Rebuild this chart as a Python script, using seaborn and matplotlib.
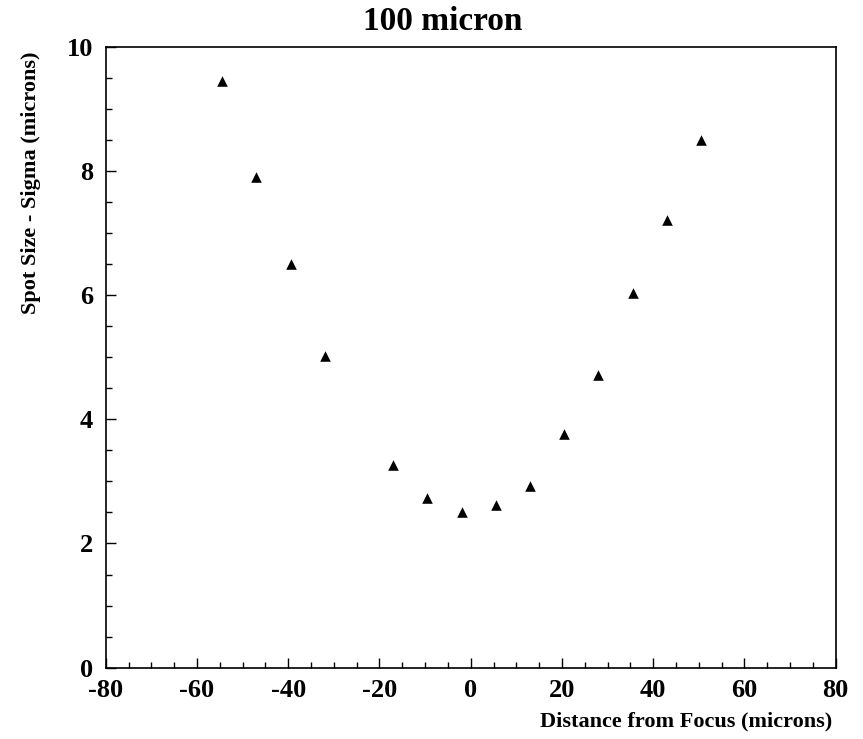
import matplotlib
matplotlib.use("Agg")
import matplotlib.pyplot as plt
import seaborn as sns
import pandas as pd
from matplotlib.ticker import MultipleLocator

distance = [-54.5, -47.0, -39.5, -32.0, -17.0, -9.5, -2.0, 5.5, 13.0, 20.5, 28.0, 35.5, 43.0, 50.5]
sigma = [9.45, 7.90, 6.50, 5.02, 3.26, 2.74, 2.50, 2.62, 2.93, 3.76, 4.72, 6.03, 7.21, 8.50]
x_ticks = [-80, -60, -40, -20, 0, 20, 40, 60, 80]
y_ticks = [0, 2, 4, 6, 8, 10]

sns.set_theme(style="white")
plt.rcParams['font.family'] = ['Liberation Serif', 'DejaVu Serif']
plt.rcParams['text.color'] = 'black'
plt.rcParams['xtick.color'] = 'black'
plt.rcParams['ytick.color'] = 'black'

df = pd.DataFrame({"distance": distance, "sigma": sigma})

fig = plt.figure(figsize=(8.63, 7.39), dpi=100)
ax = fig.add_axes([0.1225, 0.0965, 0.9684 - 0.1225, 0.9368 - 0.0965])

sns.scatterplot(data=df, x="distance", y="sigma", marker="^", color="black",
                s=58, linewidth=0, ax=ax)

ax.set_xlim(-80, 80)
ax.set_ylim(0, 10)
ax.set_xticks(x_ticks)
ax.set_yticks(y_ticks)
ax.set_xticklabels([str(v) for v in x_ticks], fontsize=19, fontweight="bold")
ax.set_yticklabels([str(v) for v in y_ticks], fontsize=19, fontweight="bold")
ax.xaxis.set_minor_locator(MultipleLocator(5))
ax.yaxis.set_minor_locator(MultipleLocator(0.5))
ax.tick_params(axis="both", which="both", direction="in", top=False, right=False,
               bottom=True, left=True, color="black", labelcolor="black", width=1.0)
ax.tick_params(axis="both", which="major", length=7)
ax.tick_params(axis="both", which="minor", length=4)
ax.tick_params(axis="y", which="major", pad=9)
ax.tick_params(axis="x", which="major", pad=8)
for s in ax.spines.values():
    s.set_color("black")
    s.set_linewidth(1.2)
ax.set_xlabel("")
ax.set_ylabel("")

fig.text(443 / 863, 1 - 22 / 739, "100 micron", ha="center", va="center",
         fontsize=24, fontweight="bold", color="black")
fig.text(832 / 863, 1 - 721 / 739, "Distance from Focus (microns)", ha="right",
         va="center", fontsize=16, fontweight="bold", color="black")
fig.text(31 / 863, 1 - 51 / 739, "Spot Size - Sigma (microns)", ha="center",
         va="top", rotation=90, fontsize=16, fontweight="bold", color="black")

fig.savefig("out.png", dpi=100, facecolor="white")
